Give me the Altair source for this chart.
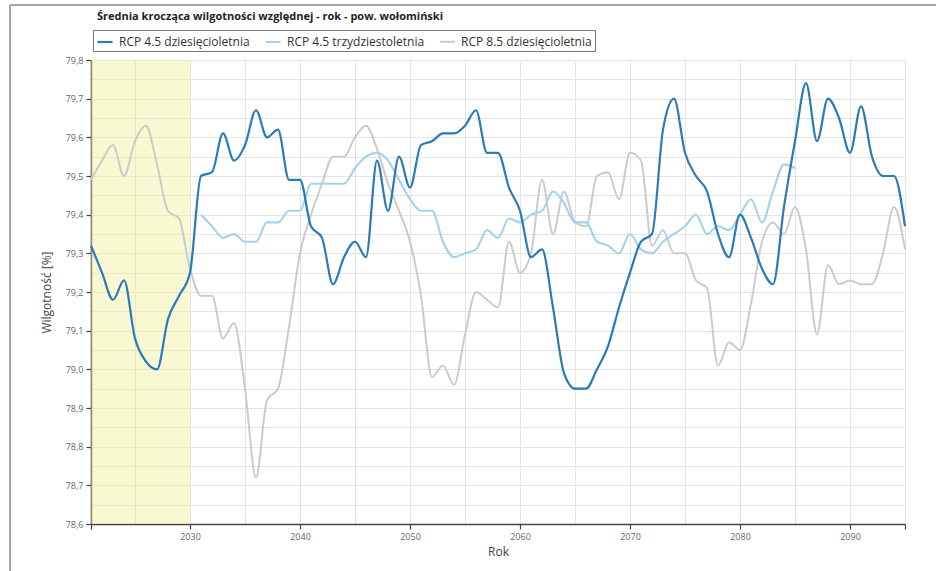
import altair as alt
import pandas as pd

# Rolling means of relative humidity [%], powiat wołomiński
years_10 = list(range(2021, 2096))
years_30 = list(range(2031, 2086))

rcp45_10 = [
    79.32, 79.25, 79.18, 79.23, 79.08, 79.02, 79.00, 79.13, 79.19, 79.25,
    79.50, 79.51, 79.61, 79.54, 79.58, 79.67, 79.60, 79.62, 79.49, 79.49,
    79.37, 79.34, 79.22, 79.29, 79.33, 79.29, 79.54, 79.41, 79.55, 79.47,
    79.58, 79.59, 79.61, 79.61, 79.63, 79.67, 79.56, 79.56, 79.47, 79.41,
    79.29, 79.31, 79.16, 78.99, 78.95, 78.95, 79.00, 79.06, 79.16, 79.25,
    79.33, 79.35, 79.62, 79.70, 79.56, 79.50, 79.46, 79.35, 79.29, 79.40,
    79.34, 79.26, 79.22, 79.42, 79.59, 79.74, 79.59, 79.70, 79.65, 79.56,
    79.68, 79.55, 79.50, 79.50, 79.37,
]

rcp45_30 = [
    79.40, 79.37, 79.34, 79.35, 79.33, 79.33, 79.38, 79.38, 79.41, 79.41,
    79.48, 79.48, 79.48, 79.48, 79.52, 79.55, 79.56, 79.54, 79.49, 79.44,
    79.41, 79.41, 79.33, 79.29, 79.30, 79.31, 79.36, 79.34, 79.39, 79.38,
    79.40, 79.41, 79.46, 79.43, 79.38, 79.38, 79.33, 79.32, 79.30, 79.35,
    79.31, 79.30, 79.33, 79.35, 79.37, 79.40, 79.35, 79.37, 79.36, 79.40,
    79.44, 79.38, 79.46, 79.53, 79.52,
]

rcp85_10 = [
    79.49, 79.54, 79.58, 79.50, 79.59, 79.63, 79.53, 79.41, 79.39, 79.26,
    79.19, 79.19, 79.08, 79.12, 78.95, 78.72, 78.92, 78.95, 79.11, 79.30,
    79.40, 79.48, 79.55, 79.55, 79.60, 79.63, 79.57, 79.48, 79.41, 79.33,
    79.19, 78.98, 79.01, 78.96, 79.09, 79.20, 79.18, 79.16, 79.33, 79.25,
    79.30, 79.49, 79.35, 79.46, 79.38, 79.37, 79.50, 79.51, 79.44, 79.56,
    79.54, 79.32, 79.36, 79.30, 79.30, 79.23, 79.21, 79.01, 79.07, 79.05,
    79.17, 79.33, 79.38, 79.35, 79.42, 79.31, 79.09, 79.27, 79.22, 79.23,
    79.22, 79.22, 79.30, 79.42, 79.31,
]

series_names = [
    "RCP 4.5 dziesięcioletnia",
    "RCP 4.5 trzydziestoletnia",
    "RCP 8.5 dziesięcioletnia",
]
series_colors = ["#2a7bb7", "#a4d2ed", "#cbcbcb"]
series_widths = [2.2, 2.0, 1.0]

# Reference period shaded on the chart
ref_start, ref_end = 2021, 2030

frames = [
    pd.DataFrame({"rok": years_10, "wartosc": rcp45_10, "seria": series_names[0]}),
    pd.DataFrame({"rok": years_30, "wartosc": rcp45_30, "seria": series_names[1]}),
    pd.DataFrame({"rok": years_10, "wartosc": rcp85_10, "seria": series_names[2]}),
]
df = pd.concat(frames, ignore_index=True)

FONT = "Open Sans"

x_scale = alt.Scale(domain=[2021, 2095], nice=False, zero=False)
y_scale = alt.Scale(domain=[78.6, 79.8], nice=False, zero=False)

x_values = [2021] + list(range(2025, 2096, 5))
y_values = [round(78.6 + 0.05 * i, 2) for i in range(25)]

x_axis = alt.Axis(
    title="Rok",
    values=x_values,
    format="d",
    labelExpr="datum.value % 10 == 0 ? datum.label : ''",
    tickColor={
        "condition": {"test": "datum.value % 10 == 5 && datum.value < 2095", "value": "transparent"},
        "value": "#444",
    },
    tickSize=5,
    tickWidth=1.2,
    domainColor="#444",
    domainWidth=1.6,
    gridColor="#e4e4e4",
    gridWidth=1,
    labelFont=FONT,
    labelFontSize=9,
    labelColor="#666",
    labelPadding=3,
    labelOverlap=False,
    titleFont=FONT,
    titleFontSize=12,
    titleFontWeight="normal",
    titleColor="#444",
    titlePadding=5,
)

y_axis = alt.Axis(
    title="Wilgotność [%]",
    values=y_values,
    labelExpr="round(datum.value * 20) % 2 == 0 ? replace(format(datum.value, '.1f'), '.', ',') : ''",
    tickColor={
        "condition": {"test": "round(datum.value * 20) % 2 == 1", "value": "transparent"},
        "value": "#444",
    },
    tickSize=5,
    tickWidth=1.2,
    domainColor="#444",
    domainWidth=1.6,
    gridColor="#e4e4e4",
    gridWidth=1,
    labelFont=FONT,
    labelFontSize=9,
    labelColor="#666",
    labelPadding=3,
    labelOverlap=False,
    titleFont=FONT,
    titleFontSize=12,
    titleFontWeight="normal",
    titleColor="#444",
    titlePadding=12,
)

color_scale = alt.Scale(domain=series_names, range=series_colors)
width_scale = alt.Scale(domain=series_names, range=series_widths)

legend = alt.Legend(
    title=None,
    orient="none",
    legendX=2,
    legendY=-30,
    direction="horizontal",
    symbolType="stroke",
    symbolSize=225,
    symbolStrokeWidth=2.5,
    labelFont=FONT,
    labelFontSize=12,
    labelColor="#333",
    labelOffset=5,
    columnPadding=11,
    padding=3,
    strokeColor="#777",
    fillColor="white",
    cornerRadius=0,
)

band = alt.Chart(pd.DataFrame({"od": [ref_start], "do": [ref_end]})).mark_rect(
    color="#f0f09c", opacity=0.45
).encode(
    x=alt.X("od:Q", scale=x_scale, axis=x_axis),
    x2="do:Q",
    y=alt.value(0),
    y2=alt.value(464),
)


def series_line(name):
    return (
        alt.Chart(df)
        .transform_filter(alt.datum.seria == name)
        .mark_line(interpolate="monotone")
        .encode(
            x=alt.X("rok:Q", scale=x_scale, axis=x_axis),
            y=alt.Y("wartosc:Q", scale=y_scale, axis=y_axis),
            color=alt.Color("seria:N", scale=color_scale, legend=legend),
            strokeWidth=alt.StrokeWidth("seria:N", scale=width_scale, legend=None),
        )
    )


# Frame around the figure
frame = alt.Chart(pd.DataFrame({"k": [0]}))
frame_top = frame.mark_rule(color="#8a8a8a", strokeWidth=1.5).encode(
    x=alt.value(-81), x2=alt.value(845), y=alt.value(-55)
)
frame_left = frame.mark_rule(color="#8a8a8a", strokeWidth=1.5).encode(
    x=alt.value(-81), y=alt.value(-55), y2=alt.value(511)
)

chart = alt.layer(
    band,
    series_line(series_names[2]),
    series_line(series_names[1]),
    series_line(series_names[0]),
    frame_top,
    frame_left,
).properties(
    width=814,
    height=464,
    padding={"left": 91, "top": 60, "right": 31, "bottom": 47},
    autosize=alt.AutoSizeParams(type="none"),
    title=alt.TitleParams(
        text="Średnia krocząca wilgotności względnej - rok - pow. wołomiński",
        anchor="start",
        frame="group",
        dx=6,
        offset=0,
        dy=18,
        font=FONT,
        fontSize=11,
        fontWeight="bold",
        color="#222",
    ),
    background="white",
).configure_view(stroke="#dcdcdc", strokeWidth=1)

chart.save("out.html", embed_options={"renderer": "svg", "actions": False})
